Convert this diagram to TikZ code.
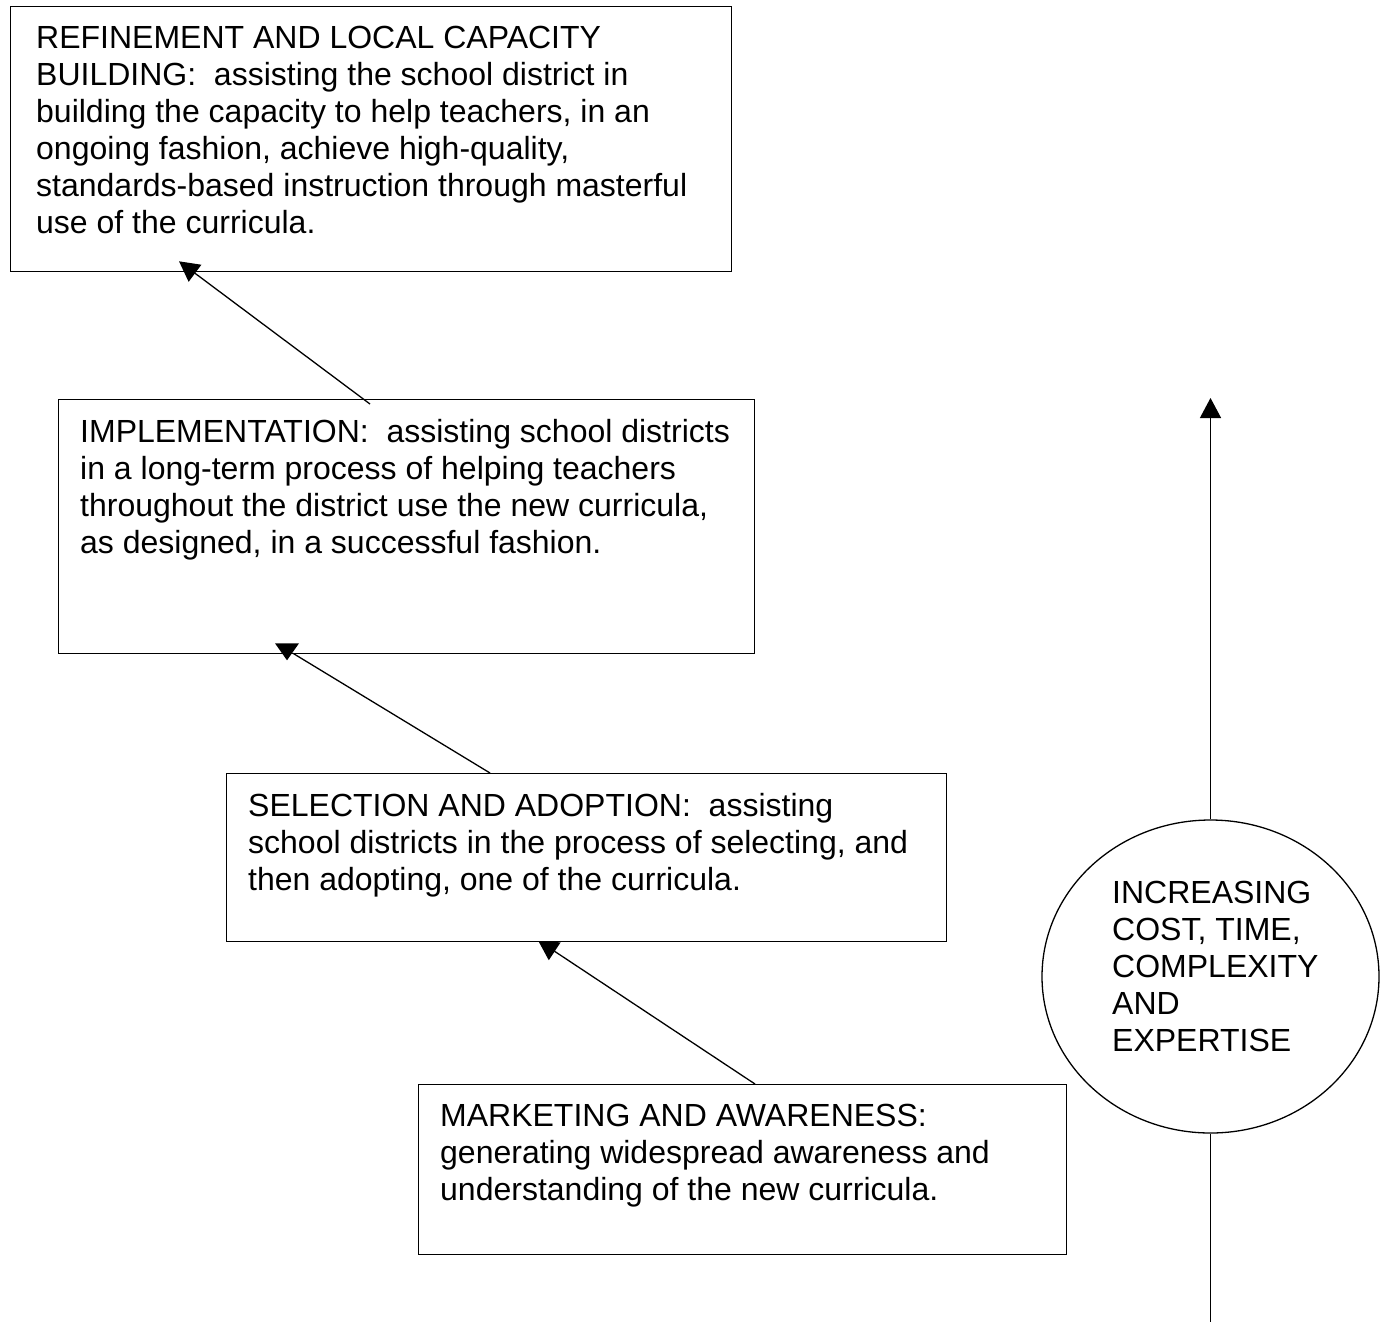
\documentclass[tikz,border=0pt]{standalone}
\usepackage{fontspec}
\setmainfont{Liberation Sans}
\usetikzlibrary{arrows.meta,shapes.geometric}

% multi-line text block whose reference point is the first baseline
\newcommand\stagetext[1]{\parbox[t]{900pt}{\raggedright #1}}

\begin{document}
\begin{tikzpicture}[x=1pt,y=-1pt,
  stagebox/.style={draw=black, fill=white, line width=1.3pt, inner sep=0pt,
                   anchor=north west},
  label/.style={anchor=base west, inner sep=0pt, text=black,
                font=\fontsize{32}{37}\selectfont},
  link/.style={line width=1.3pt, draw=black,
               -{Triangle[length=20pt,width=21pt]}},
  plain/.style={line width=1.3pt, draw=black}]

\useasboundingbox (0,0) rectangle (1386,1323);

% frames of the two lower stages, so the bottom connector can be placed first
\node[stagebox, draw=none, fill=none, minimum width=648pt, minimum height=170pt]
  (m4) at (418,1084) {};
\node[stagebox, draw=none, fill=none, minimum width=720pt, minimum height=168pt]
  (m3) at (226,773) {};
% bottom connector: its head sits beneath the box drawn afterwards
\draw[link] ([xshift=337pt]m4.north west) -- ([xshift=312pt,yshift=2pt]m3.south west);

% the four stages
\node[stagebox, minimum width=721pt, minimum height=265pt] (b1) at (10,6) {};
\node[stagebox, minimum width=696pt, minimum height=254pt] (b2) at (58,399) {};
\node[stagebox, minimum width=720pt, minimum height=168pt] (b3) at (226,773) {};
\node[stagebox, minimum width=648pt, minimum height=170pt] (b4) at (418,1084) {};

\node[label] (t1) at ([xshift=26pt,yshift=-42pt]b1.north west) {\stagetext{%
REFINEMENT AND LOCAL CAPACITY\\
BUILDING:\ \ assisting the school district in\\
building the capacity to help teachers, in an\\
ongoing fashion, achieve high-quality,\\
standards-based instruction through masterful\\
use of the curricula.}};

\node[label] (t2) at ([xshift=22pt,yshift=-43pt]b2.north west) {\stagetext{%
IMPLEMENTATION:\ \ assisting school districts\\
in a long-term process of helping teachers\\
throughout the district use the new curricula,\\
as designed, in a successful fashion.}};

\node[label] (t3) at ([xshift=22pt,yshift=-43pt]b3.north west) {\stagetext{%
SELECTION AND ADOPTION:\ \ assisting\\
school districts in the process of selecting, and\\
then adopting, one of the curricula.}};

\node[label] (t4) at ([xshift=22pt,yshift=-42pt]b4.north west) {\stagetext{%
MARKETING AND AWARENESS:\\
generating widespread awareness and\\
understanding of the new curricula.}};

% middle connector with its head resting on the lower edge of the box above
\coordinate (h2) at ([xshift=235pt,yshift=1pt]b2.south west);
\draw[plain] ([xshift=264pt]b3.north west) -- (h2);
\fill[black] (h2) ++(-18,-10) -- ++(24,0) -- ++(-12,17) -- cycle;

% upper connector, drawn over both boxes
\draw[link] ([xshift=312pt,yshift=-5pt]b2.north west) -- ([xshift=169pt,yshift=11pt]b1.south west);

% side scale
\node[ellipse, draw=black, line width=1.3pt, fill=white, inner sep=0pt,
      minimum width=337pt, minimum height=313pt] (c) at (1210.5,976.5) {};
\node[label] (ct) at (1112,903) {\stagetext{%
INCREASING\\
COST, TIME,\\
COMPLEXITY\\
AND\\
EXPERTISE}};
\coordinate (top) at (1210.5,398);
\coordinate (foot) at (1210.5,1322);
\draw[link] (c.north) -- (top);
\draw[plain] (c.south) -- (foot);
\end{tikzpicture}
\end{document}
